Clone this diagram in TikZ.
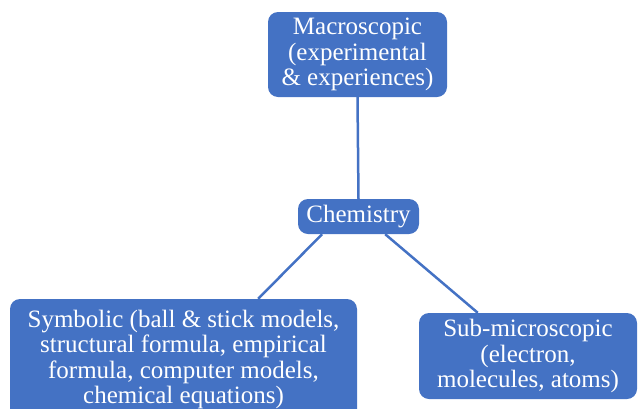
\documentclass[tikz,border=0pt]{standalone}
\usepackage{fontspec}
\setmainfont{Liberation Serif}
\usetikzlibrary{calc}
\definecolor{boxblue}{HTML}{4472C4}
\tikzset{
  box/.style={fill=boxblue, draw=none, rounded corners=10pt, text=white, align=center,
    font=\fontsize{25}{25.5}\selectfont, inner sep=0pt},
  link/.style={draw=boxblue, line width=2.5pt}
}
\begin{document}
\begin{tikzpicture}[x=1pt,y=-1pt]
\path[use as bounding box] (0,0) rectangle (638,408);
\clip (0,0) rectangle (638,408);
\node[box, minimum width=179pt, minimum height=85pt] (macro) at (357.5,54.5)
  {Macroscopic\\(experimental\\\& experiences)};
\node[box, minimum width=121pt, minimum height=35pt] (chem) at (358.5,216.5) {Chemistry};
\node[box, minimum width=347pt, minimum height=121pt] (sym) at (183.5,359.5)
  {Symbolic (ball \& stick models,\\structural formula, empirical\\formula, computer models,\\chemical equations)};
\node[box, minimum width=218pt, minimum height=86pt] (sub) at (528,356)
  {Sub-microscopic\\(electron,\\molecules, atoms)};
\draw[link] (macro.south) -- (chem.north);
\draw[link] ($(chem.south)!0.6!(chem.south west)$) -- ($(sym.north)!0.43!(sym.north east)$);
\draw[link] ($(chem.south)!0.44!(chem.south east)$) -- ($(sub.north)!0.46!(sub.north west)$);
\end{tikzpicture}
\end{document}
